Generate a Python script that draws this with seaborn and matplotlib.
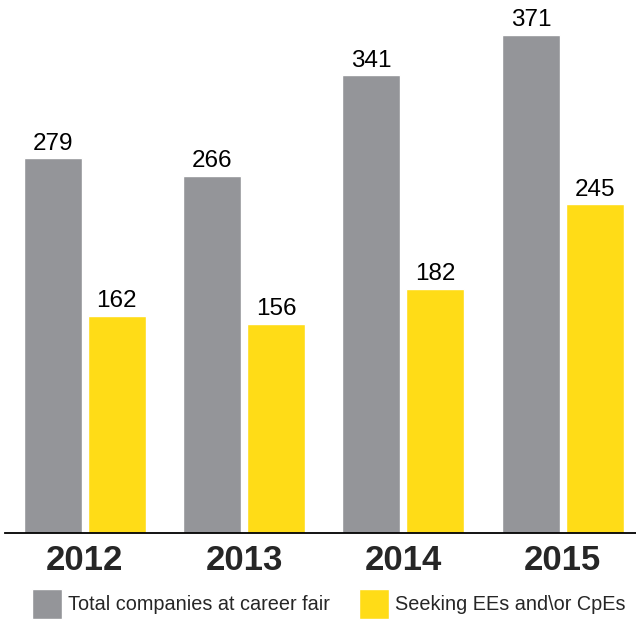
import pandas as pd
import matplotlib.pyplot as plt
import seaborn as sns

# Values
years = ["2012", "2013", "2014", "2015"]
total_companies = [279, 266, 341, 371]
seeking_ee_cpe = [162, 156, 182, 245]
series_names = ["Total companies at career fair", "Seeking EEs and\\or CpEs"]

df = pd.DataFrame({
    "year": years * 2,
    "count": total_companies + seeking_ee_cpe,
    "series": [series_names[0]] * len(years) + [series_names[1]] * len(years),
})

sns.set_theme(style="white")
plt.rcParams['font.family'] = ['Liberation Sans', 'DejaVu Sans']

palette = {series_names[0]: "#949599", series_names[1]: "#FFDC17"}

fig = plt.figure(figsize=(6.36, 6.24), dpi=100)
ax = fig.add_axes([5 / 636, 1 - 533 / 624, 631 / 636, 533 / 624])

sns.barplot(data=df, x="year", y="count", hue="series", palette=palette,
            width=0.8, gap=0.09, saturation=1, ax=ax)

for c in ax.containers:
    ax.bar_label(c, padding=2.5, fontsize=17.5, color="black")

ax.set_xlim(-0.5, 3.46)
ax.set_ylim(0, 397)
ax.set_xlabel("")
ax.set_ylabel("")
ax.set_yticks([])
ax.tick_params(axis="x", length=0, pad=8, labelsize=25)
for lbl in ax.get_xticklabels():
    lbl.set_fontweight("bold")
for side in ["top", "right", "left"]:
    ax.spines[side].set_visible(False)
ax.spines["bottom"].set_color("black")
ax.spines["bottom"].set_linewidth(1.3)

handles, labels = ax.get_legend_handles_labels()
ax.get_legend().remove()
fig.legend(handles, labels, ncol=2, loc="lower left",
           bbox_to_anchor=(22 / 636, -0.008), frameon=False, fontsize=14.3,
           handlelength=1.5, handleheight=1.95, handletextpad=0.3,
           columnspacing=1.5, borderaxespad=0.1)

plt.savefig("out.png", dpi=100)
plt.close()
